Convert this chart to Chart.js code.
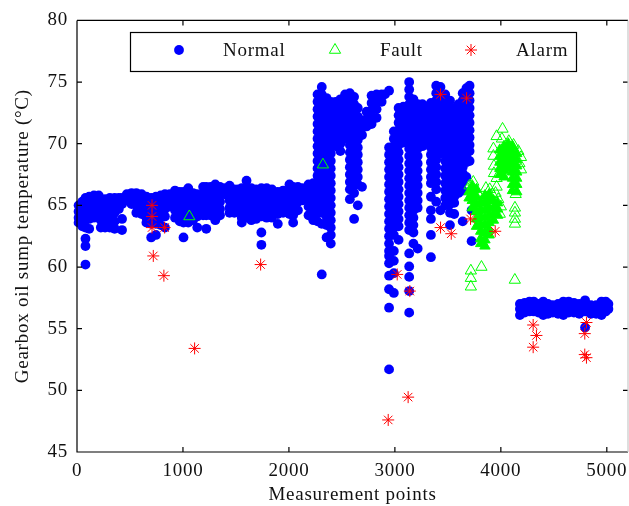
<!DOCTYPE html>
<html>
<head>
<meta charset="utf-8">
<title>Gearbox oil sump temperature</title>
<script src="https://cdn.jsdelivr.net/npm/chart.js@4"></script>
<style>
  html, body { margin: 0; background: #fff; }
  canvas { display: block; }
</style>
</head>
<body>
<canvas id="scatterChart" width="629" height="506"></canvas>
<script>
// each row: measurement point, then the temperatures read at that point
const normalEarly = [
  [15,65.0,64.5,64.0,63.6],[50,65.3,64.8,64.3,63.8,63.3],[80,65.6,65.0,64.4,63.8,63.2,62.3,61.7,60.2],
  [115,65.7,65.1,64.5,63.9,63.1],[160,65.8,65.2,64.6,64.0],[205,65.8,65.3,64.8,64.2],[225,65.5,65.0,64.4,63.8,63.2],
  [265,65.5,65.0,64.4,63.8,63.2],[310,65.6,65.1,64.5,63.9,63.2],[355,65.6,65.0,64.4,63.7,63.1],
  [395,65.6,65.1,64.7],[425,65.6,65.1,63.9,63.0],[470,65.9,65.4],[515,66.0,65.5,65.1],[560,66.0,65.5,65.0,64.4],
  [610,65.9,65.4,64.8,64.3],[655,65.7,65.2,64.6,64.0,63.6],[700,65.6,65.1,64.5,64.0,63.5,62.4],[745,65.7,65.2,64.6,64.0,63.5,62.6],
  [790,65.8,65.3,64.7,64.1,63.4],[830,65.9,65.3,64.7,64.1,63.2],[875,65.9,65.4,64.9],[925,66.2,65.7,65.2,64.6,64.0],
  [970,66.1,65.5,64.9,64.3,63.7],[1005,66.1,65.5,64.9,64.2,63.6,62.4],[1050,66.4,65.8,65.2,64.6,64.0,63.6],
  [1095,66.0,65.4,64.9,64.3,63.8],[1135,65.9,65.3,64.7,64.1,63.2],[1190,66.5,65.9,65.3,64.7,64.2],[1220,66.5,65.9,65.3,64.7,64.2,63.1],
  [1260,66.5,65.9,65.3,64.7,64.2],[1305,66.7,66.1,65.5,64.9,64.3,63.8],[1350,66.5,65.9,65.3,64.7,64.2],[1395,66.4,65.9],
  [1440,66.6,66.0,65.4,64.8,64.4],[1485,66.3,65.8,65.2,64.6,64.4],[1520,66.3,65.7,65.2,64.6],[1555,66.4,65.8,65.2,64.6,64.0,63.6],
  [1600,67.0,66.4,65.8,65.2,64.6,64.0],[1645,66.4,65.8,65.2,64.6,64.0,63.8],[1690,66.3,65.7,65.1,64.5,63.9],[1740,66.4,65.8,65.2,64.6,64.1,62.8,61.8],
  [1790,66.4,65.8,65.2,64.6,64.0],[1840,66.3,65.7,65.1,64.5,64.0],[1895,66.1,65.5,64.9,64.3,63.5],[1945,66.2,65.6,65.0,64.4],
  [2005,66.7,66.1,65.5,64.9,64.3],[2040,66.5,65.9,65.3,64.7,64.2,63.6],[2085,66.5,65.9,65.3,64.6],[2125,66.4,65.9,65.4],
  [2185,66.7,66.1,65.5,64.9,64.2],[2230,66.8,66.2,65.6,65.0,64.4,63.8]
];
const normalRise = [
  [2270,74.0,73.4,72.8,72.2,71.6,71.0,70.4,69.8,69.2,68.6,68.0,67.4,66.8,66.2,65.6,65.0,64.4,63.7],
  [2310,74.6,74.0,73.4,72.8,72.2,71.6,71.0,70.4,69.8,69.2,68.6,68.0,67.4,66.8,66.2,65.6,65.0,64.4,63.5,59.4],
  [2355,73.7,73.1,72.5,71.9,71.3,70.7,70.1,69.5,68.9,68.3,67.7,67.1,66.5,65.9,65.3,64.7,64.1,63.4,62.4],
  [2395,73.4,72.8,72.2,71.6,71.0,70.4,69.8,69.2,68.6,68.0,67.4,66.8,66.2,65.6,65.0,64.4,63.8,63.2,62.6,61.9],
  [2440,73.4,72.8,72.2,71.6,71.0,70.4,69.8],[2485,73.6,73.0,72.4,71.8,71.2,70.6,70.0,69.4],
  [2530,74.0,73.4,72.8,72.2,71.6,71.0,70.4],[2575,74.1,73.5,72.9,72.3,71.7,71.1,70.5,69.9,69.3,68.7,68.1,67.5,66.9,66.3,65.5],
  [2615,73.8,73.2,72.6,72.0,71.4,70.8,70.2,69.6,69.0,68.4,67.8,67.2,66.6,66.0,63.9],
  [2650,72.9,72.2,71.5,70.9,70.3,69.7,69.1,68.5,67.9,67.3,66.7,65.0],[2690,71.9,71.3,70.7,66.5],
  [2733,72.6,72.0,71.4],[2780,73.9,73.3,72.7,72.1,71.6],[2827,74.0,73.4,72.8,72.1],[2875,74.0,73.4],[2906,74.0],[2945,74.3]
];
const normalDrop = [
  [2945,69.7,69.1,68.5,67.9,67.3,66.7,66.1,65.5,64.9,64.3,63.7,63.1,62.5,61.9,61.3,60.9,60.3,59.3,58.2,56.7,51.7],
  [2990,71.0,70.4,69.8,69.2,68.6,68.0,67.4,66.8,66.2,65.6,65.0,64.4,63.8,63.2,62.6,61.3,60.5,59.5,57.9],
  [3035,72.9,72.3,71.7,71.1,70.5,69.9,69.3,68.7,68.1,67.5,66.9,66.3,65.7,65.1,64.5,63.9,63.3,62.2],
  [3080,73.0,72.4,71.8,71.2,70.6,70.1],
  [3135,75.0,74.4,73.8,73.2,72.6,72.0,71.4,70.8,70.2,69.6,69.0,68.4,67.8,67.2,66.6,66.0,65.4,64.8,64.2,63.6,63.0,61.1,60.05,59.2,58.05,56.3],
  [3175,73.6,73.0,72.4,71.8,71.2,70.6,70.0,69.4,68.8,68.2,67.6,67.0,66.4,65.8,65.2,64.6,64.0,63.4,62.8,61.9],
  [3215,73.2,72.6,72.0,71.4,70.8,70.2,69.6,69.0,68.4,67.8,67.2,66.6,66.0,65.4,64.8,61.5],
  [3260,73.2,72.6,72.0,71.4,70.8,70.2,69.8],[3300,73.0,72.4,71.8,71.2,70.6,70.0],
  [3340,73.3,72.7,72.1,71.5,70.9,70.3,69.7,69.1,68.5,67.9,67.3,66.8,65.7,64.6,63.9,62.6,60.8],
  [3390,74.7,74.1,73.5,72.9,72.3,71.7,71.1,70.5,69.9,69.3,68.7,68.1,67.5,66.9,66.3,65.3],
  [3430,74.6,74.0,73.4,72.8,72.2,71.6,71.0,70.4,69.8,69.2,64.6],
  [3475,74.0,73.4,72.8,72.2,71.6,71.0,70.4,69.8,69.2,68.6,68.0,67.4,66.8,66.2,65.6,65.0],
  [3520,73.5,72.9,72.3,71.7,71.1,70.5,69.9,69.3,68.7,68.1,67.5,66.9,66.3,65.7,65.1,64.4,63.4],
  [3560,72.9,72.3,71.7,71.1,70.5,69.9,69.3,68.7,68.1,67.5,66.9,66.3,65.7,65.2,64.3],
  [3600,73.2,72.6,72.0,71.4,70.8,70.2,69.6,69.0,68.4,67.8,67.2,66.6,66.0],
  [3640,74.1,73.5,72.9,72.3,71.7,71.1,70.5,69.9,69.3,68.7,68.1,67.6,66.9,66.2,63.7],
  [3675,74.5,73.9,73.3,72.7,72.1,71.5,70.9,70.3,69.7,69.1,68.5,67.3],
  [3705,74.7,74.1,73.5,72.9,72.3,71.7,71.1,70.5,69.9,69.4,68.6],[3724,64.6,62.1]
];
const normalLate = [
  [4180,57.0,56.6,56.1],[4225,57.1,56.6,56.3],[4270,57.2,56.7,56.4],[4310,57.2,56.7,56.4],[4355,57.0,56.6,56.3],
  [4400,57.2,56.7,56.1],[4445,57.0,56.6,56.2],[4490,56.9,56.6,56.3],[4540,57.0,56.6,56.2],[4590,57.2,56.7,56.1],
  [4640,57.2,56.7,56.3],[4690,57.1,56.6,56.3],[4740,57.0,56.6,56.2],[4795,57.3,56.8,56.4,55.1],[4850,56.9,56.5,56.2],
  [4900,56.9,56.5,56.2],[4950,57.2,56.7,56.1],[4990,57.2,56.8,56.4],[5015,57.0,56.6]
];
// triangles that overlap into a solid patch in the picture
const faultSolid = [
  [3700,66.1,65.6],[3730,66.6,66.0,65.4,64.8],[3770,66.3,65.7,65.1,64.5,63.9,63.3],
  [3810,65.3,64.7,64.1,63.5,62.9,62.3,61.9],[3850,65.8,65.2,64.6,64.0,63.4,62.8,62.2,61.7],
  [3890,65.9,65.4,64.8,64.2,63.6,63.0,62.6],[3930,65.4,64.8,64.3,63.8],[3970,65.2,64.7,64.2],
  [3990,69.5,69.0,68.5,68.0,67.5],[4030,69.8,69.3,68.8,68.3,67.8,67.3],[4070,70.0,69.5,69.0,68.5,68.0],
  [4110,69.8,69.3,68.8,68.3,67.7,67.2,66.7,66.2],[4150,69.2,68.7,68.2,67.7,67.2,66.7,66.1]
];
const faultOpen = [
  [1060,64.1],[2321,68.3],[3705,66.6],[3740,66.9],[3800,65.7],[3859,66.4],[3895,66.3],[3920,65.9],[3975,65.5],[4000,64.9],[3990,64.3],
  [3717,59.7,59.1,58.4],[3817,60.0],[4132,58.95],[4133,64.8,64.4,63.9,63.5],[4140,65.9],
  [4016,71.2],[3960,70.6],[4010,70.4],[4075,70.2],[4120,69.9],[4165,69.4],[4190,68.9],[4175,68.4],[4190,67.9],
  [3930,69.6,69.0],[3935,68.2,67.6],[3960,67.2,66.5],[3950,66.0]
];
const alarmX = [708,708,708,827,720,820,1110,1733,3431,3677,3714,3431,3532,3947,3022,3141,2937,3125,4305,4336,4305,4808,4792,4792,4808];
const alarmY = [65.0,64.1,63.2,63.2,60.9,59.3,53.4,60.2,74.0,73.7,63.9,63.2,62.7,62.9,59.4,58.05,47.6,49.45,55.3,54.45,53.5,55.5,54.6,52.9,52.65];
const xTicks = [0,1000,2000,3000,4000,5000];
const yTicks = [45,50,55,60,65,70,75,80];

const serif = "'Liberation Serif', 'Times New Roman', serif";

function toPoints(rows) {
  return rows.flatMap((row) => row.slice(1).map((y) => ({ x: row[0], y: y })));
}

const boxPlugin = {
  id: "boxPlugin",
  beforeDraw(chart) {
    chart.ctx.letterSpacing = "0.75px";
  },
  afterDatasetsDraw(chart) {
    const ctx = chart.ctx;
    const area = chart.chartArea;
    const tick = 5;
    ctx.save();
    ctx.strokeStyle = "#000";
    ctx.lineWidth = 1.2;
    ctx.beginPath();
    ctx.moveTo(area.left, area.top);
    ctx.lineTo(area.right, area.top);
    ctx.moveTo(area.left, area.top);
    ctx.lineTo(area.left, area.bottom);
    ctx.lineTo(area.right, area.bottom);
    xTicks.forEach((value) => {
      const px = chart.scales.x.getPixelForValue(value);
      ctx.moveTo(px, area.bottom);
      ctx.lineTo(px, area.bottom - tick);
      ctx.moveTo(px, area.top);
      ctx.lineTo(px, area.top + tick);
    });
    yTicks.forEach((value) => {
      const py = chart.scales.y.getPixelForValue(value);
      ctx.moveTo(area.left, py);
      ctx.lineTo(area.left + tick, py);
      ctx.moveTo(area.right, py);
      ctx.lineTo(area.right - tick, py);
    });
    ctx.stroke();
    ctx.strokeStyle = "#c8c8c8";
    ctx.beginPath();
    ctx.moveTo(area.right, area.top);
    ctx.lineTo(area.right, area.bottom);
    ctx.stroke();

    // legend box sits inside the axes, the stock legend can't space it like this
    ctx.fillStyle = "#fff";
    ctx.fillRect(130.5, 32.5, 446, 39);
    ctx.strokeStyle = "#000";
    ctx.lineWidth = 1.2;
    ctx.strokeRect(130.5, 32.5, 446, 39);
    const entries = [
      { set: 0, mark: 179, text: 223 },
      { set: 1, mark: 335, text: 380 },
      { set: 2, mark: 471, text: 516 },
    ];
    ctx.font = "19px " + serif;
    ctx.textBaseline = "middle";
    entries.forEach((e) => {
      const ds = chart.data.datasets[e.set];
      ctx.strokeStyle = ds.pointBorderColor;
      ctx.fillStyle = ds.pointBackgroundColor;
      ctx.lineWidth = ds.pointBorderWidth;
      Chart.helpers.drawPoint(ctx, { pointStyle: ds.pointStyle, rotation: 0, radius: ds.pointRadius, borderWidth: ds.pointBorderWidth }, e.mark, 50);
      ctx.fillStyle = "#111";
      ctx.fillText(ds.label, e.text, 51);
    });
    ctx.restore();
  },
};

new Chart(document.getElementById("scatterChart"), {
  type: "scatter",
  plugins: [boxPlugin],
  data: {
    datasets: [
      {
        label: "Normal",
        data: toPoints(normalEarly.concat(normalRise, normalDrop, normalLate)),
        pointStyle: "circle",
        pointRadius: 4.9,
        pointBackgroundColor: "#0000ff",
        pointBorderColor: "#0000ff",
        pointBorderWidth: 0,
        clip: false,
        order: 4,
      },
      {
        label: "Fault",
        data: toPoints(faultOpen),
        pointStyle: "triangle",
        pointRadius: 6.5,
        pointBackgroundColor: "rgba(0,0,0,0)",
        pointBorderColor: "#00ff00",
        pointBorderWidth: 1,
        clip: false,
        order: 2,
      },
      {
        label: "Alarm",
        data: alarmX.map((x, i) => ({ x: x, y: alarmY[i] })),
        pointStyle: "star",
        pointRadius: 6,
        pointBackgroundColor: "#ff0000",
        pointBorderColor: "#ff0000",
        pointBorderWidth: 1,
        clip: false,
        order: 1,
      },
      {
        label: "Fault dense",
        data: toPoints(faultSolid),
        pointStyle: "triangle",
        pointRadius: 6,
        pointBackgroundColor: "#00ff00",
        pointBorderColor: "#00ff00",
        pointBorderWidth: 1,
        clip: false,
        order: 3,
      },
    ],
  },
  options: {
    responsive: false,
    animation: false,
    events: [],
    layout: { autoPadding: false, padding: { top: 20, right: 1 } },
    plugins: {
      legend: { display: false },
      tooltip: { enabled: false },
    },
    scales: {
      x: {
        type: "linear",
        min: 0,
        max: 5200,
        afterBuildTicks: (scale) => { scale.ticks = xTicks.map((value) => ({ value: value })); },
        afterFit: (scale) => { scale.height = 54; },
        grid: { display: false, tickLength: 8 },
        border: { display: false },
        ticks: {
          autoSkip: false,
          maxRotation: 0,
          padding: 0,
          color: "#111",
          font: { family: serif, size: 19 },
          callback: (value) => String(value),
        },
        title: {
          display: true,
          text: "Measurement points",
          color: "#111",
          padding: { top: 0, bottom: 0 },
          font: { family: serif, size: 19 },
        },
      },
      y: {
        min: 45,
        max: 80,
        afterBuildTicks: (scale) => { scale.ticks = yTicks.map((value) => ({ value: value })); },
        afterFit: (scale) => { scale.width = 77; },
        grid: { display: false, tickLength: 0 },
        border: { display: false },
        ticks: {
          autoSkip: false,
          padding: 9,
          color: "#111",
          font: { family: serif, size: 19 },
        },
        title: {
          display: true,
          text: "Gearbox oil sump temperature (°C)",
          color: "#111",
          padding: { top: 12, bottom: 0 },
          font: { family: serif, size: 19 },
        },
      },
    },
  },
});
</script>
</body>
</html>
